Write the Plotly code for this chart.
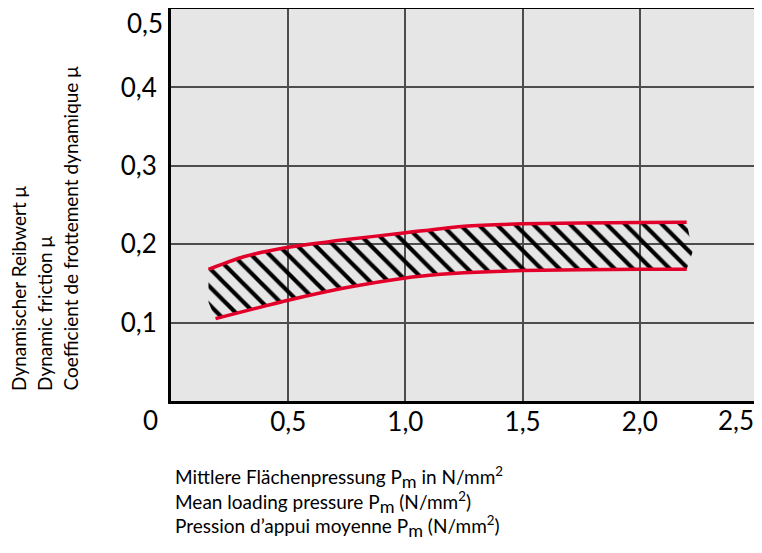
import plotly.graph_objects as go

# upper / lower limits of the friction band
upper_x = [0.16, 0.31, 0.5, 0.75, 1.0, 1.25, 1.5, 2.0, 2.2]
upper_y = [0.168, 0.184, 0.196, 0.206, 0.2145, 0.223, 0.226, 0.2277, 0.228]
lower_x = [0.19, 0.5, 0.75, 1.0, 1.15, 1.25, 1.5, 2.0, 2.2]
lower_y = [0.105, 0.1285, 0.1447, 0.157, 0.1616, 0.1637, 0.1663, 0.168, 0.168]

# hatching runs a little past the red lines at both ends
hatch_right_x, hatch_right_y = [2.225], [0.19]
hatch_left_x, hatch_left_y = [0.16], [0.126]

x_ticks = [0.5, 1.0, 1.5, 2.0]
y_ticks = [0.1, 0.2, 0.3, 0.4]

SUBM = "<sub><span style='font-size:18px'>m</span></sub>"
y_title = ["Dynamischer Reibwert μ", "Dynamic friction μ", "Coefficient de frottement dynamique μ"]
x_title = ["Mittlere Flächenpressung P" + SUBM + " in N/mm<sup>2</sup>",
           "Mean loading pressure P" + SUBM + " (N/mm<sup>2</sup>)",
           "Pression d’appui moyenne P" + SUBM + " (N/mm<sup>2</sup>)"]

FONT = "Lato"
red = "#e2002a"

hx = upper_x + hatch_right_x + lower_x[::-1] + hatch_left_x
hy = upper_y + hatch_right_y + lower_y[::-1] + hatch_left_y

fig = go.Figure()
fig.add_trace(go.Scatter(x=hx, y=hy, mode="lines", fill="toself",
                         line=dict(width=0, color="rgba(0,0,0,0)"),
                         fillcolor="rgba(0,0,0,0)",
                         fillpattern=dict(shape="\\", fgcolor="black", bgcolor="rgba(0,0,0,0)",
                                          fgopacity=1, size=13, solidity=0.32),
                         hoverinfo="skip"))
fig.add_trace(go.Scatter(x=upper_x, y=upper_y, mode="lines",
                         line=dict(color=red, width=3.5, shape="spline", smoothing=0.6)))
fig.add_trace(go.Scatter(x=lower_x, y=lower_y, mode="lines",
                         line=dict(color=red, width=3.5, shape="spline", smoothing=0.6)))

fig.update_xaxes(range=[0, 2.5], tickvals=x_ticks, tickformat=".1f", showgrid=True,
                 gridcolor="#4d4d4d", gridwidth=2, automargin=False,
                 showline=True, linecolor="black", linewidth=3, mirror=True, zeroline=False,
                 tickfont=dict(family=FONT, size=26, color="black"), ticks="", ticklabelstandoff=-4)
fig.update_yaxes(range=[0, 0.5], tickvals=y_ticks, tickformat=".1f", showgrid=True,
                 gridcolor="#4d4d4d", gridwidth=2, automargin=False,
                 showline=True, linecolor="black", linewidth=3, mirror=True, zeroline=False,
                 tickfont=dict(family=FONT, size=26, color="black"), ticks="", ticklabelstandoff=6)

ann = []
# corner / edge tick labels that plotly would centre off the page
ann.append(dict(text="0", xref="paper", yref="paper", x=0, y=0, xanchor="center", yanchor="middle",
                xshift=-21, yshift=-19, showarrow=False, font=dict(family=FONT, size=26, color="black")))
ann.append(dict(text="2,5", xref="paper", yref="paper", x=1, y=0, xanchor="right", yanchor="middle",
                xshift=-1, yshift=-19, showarrow=False, font=dict(family=FONT, size=26, color="black")))
ann.append(dict(text="0,5", xref="paper", yref="paper", x=0, y=1, xanchor="right", yanchor="top",
                xshift=-6, yshift=4, showarrow=False, font=dict(family=FONT, size=26, color="black")))
for i, t in enumerate(y_title):
    ann.append(dict(text=t, xref="paper", yref="paper", x=0, y=0, xanchor="center", yanchor="bottom",
                    xshift=-153 + 26 * i, yshift=8, textangle=-90, showarrow=False,
                    font=dict(family=FONT, size=19, color="black")))
ann.append(dict(text="<br>".join(x_title), xref="paper", yref="paper", x=0, y=0,
                xanchor="left", yanchor="top", align="left", xshift=2, yshift=-60,
                showarrow=False, font=dict(family=FONT, size=19, color="black")))

# page body has an 8px margin, so the figure is 8px smaller than the window
fig.update_layout(width=754, height=545, margin=dict(l=163, r=5, t=1, b=152),
                  plot_bgcolor="#e6e6e6", paper_bgcolor="white", showlegend=False,
                  separators=",.", annotations=ann)
fig.write_html("out.html")
